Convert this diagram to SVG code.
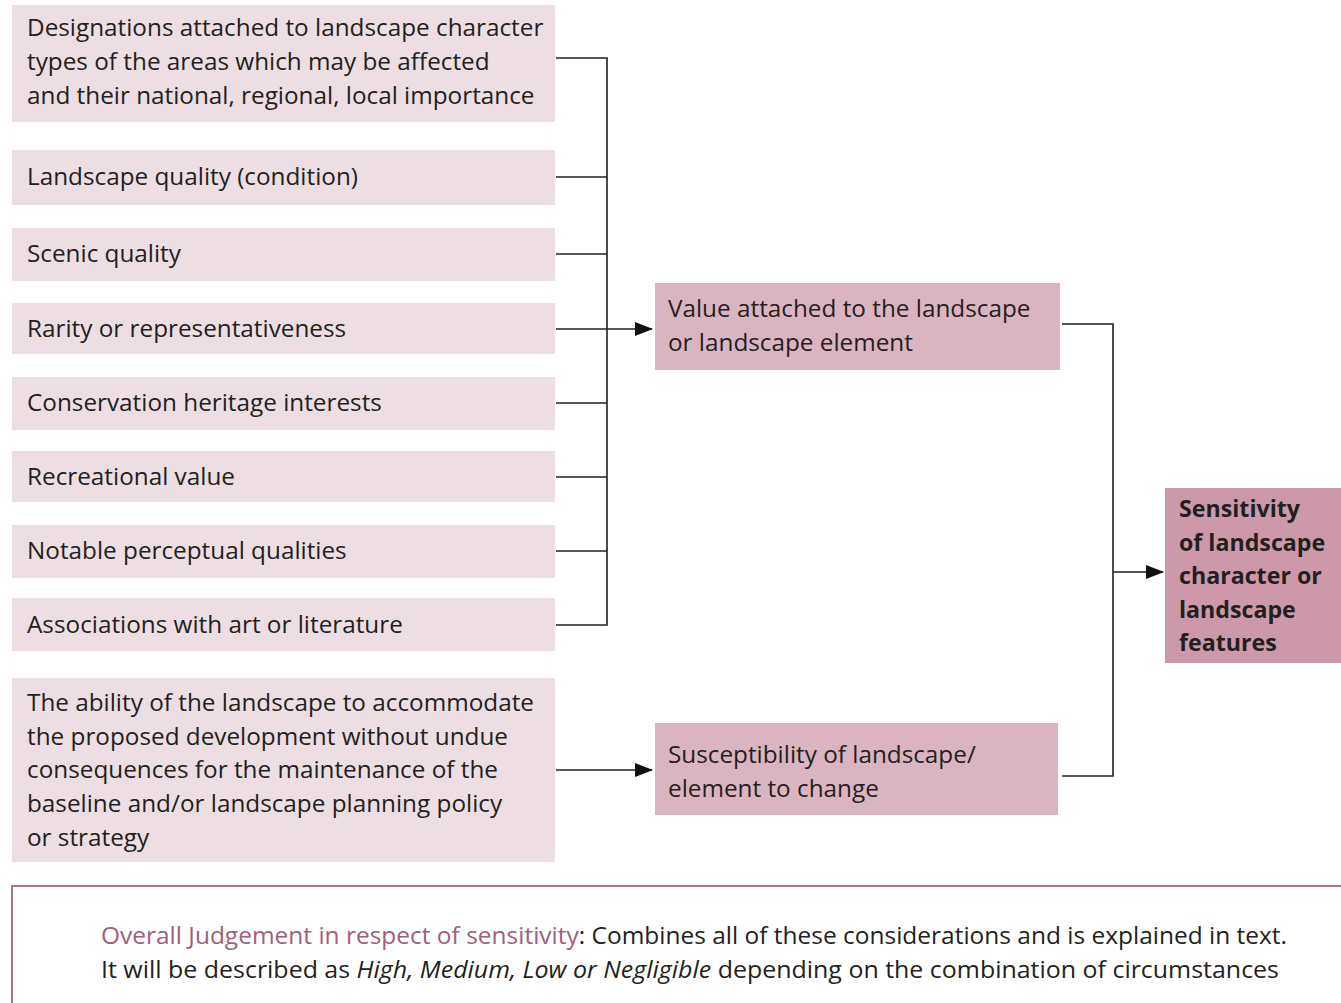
<svg xmlns="http://www.w3.org/2000/svg" width="1341" height="1003" viewBox="0 0 1341 1003">
<defs>
<style>
.lb{fill:#ecdee3}
.mb{fill:#dbb4c1}
.sb{fill:#cd98a9}
.t{font-family:"Open Sans","Liberation Sans",Arial,sans-serif;font-size:24.3px;fill:#231f20}
.tb{font-family:"Open Sans","Liberation Sans",Arial,sans-serif;font-size:23.2px;font-weight:bold;fill:#231f20}
.c{fill:none;stroke:#231f20;stroke-width:1.6}
</style>
<marker id="ah" markerWidth="18" markerHeight="14" refX="17" refY="7" orient="auto" markerUnits="userSpaceOnUse">
<path d="M0,0 L18,7 L0,14 Z" fill="#111"/>
</marker>
</defs>
<rect width="1341" height="1003" fill="#fff"/>

<g id="n1"><rect class="lb" x="12" y="5" width="543" height="117"/>
<text class="t" x="27" y="36">Designations attached to landscape character</text>
<text class="t" x="27" y="70">types of the areas which may be affected</text>
<text class="t" x="27" y="104">and their national, regional, local importance</text></g>
<g id="n2"><rect class="lb" x="12" y="150" width="543" height="55"/><text class="t" x="27" y="185">Landscape quality (condition)</text></g>
<g id="n3"><rect class="lb" x="12" y="228" width="543" height="53"/><text class="t" x="27" y="262">Scenic quality</text></g>
<g id="n4"><rect class="lb" x="12" y="303" width="543" height="51"/><text class="t" x="27" y="337">Rarity or representativeness</text></g>
<g id="n5"><rect class="lb" x="12" y="377" width="543" height="53"/><text class="t" x="27" y="411">Conservation heritage interests</text></g>
<g id="n6"><rect class="lb" x="12" y="451" width="543" height="51"/><text class="t" x="27" y="485">Recreational value</text></g>
<g id="n7"><rect class="lb" x="12" y="525" width="543" height="53"/><text class="t" x="27" y="559">Notable perceptual qualities</text></g>
<g id="n8"><rect class="lb" x="12" y="598" width="543" height="53"/><text class="t" x="27" y="633">Associations with art or literature</text></g>
<g id="n9"><rect class="lb" x="12" y="678" width="543" height="184"/>
<text class="t" x="27" y="711">The ability of the landscape to accommodate</text>
<text class="t" x="27" y="745">the proposed development without undue</text>
<text class="t" x="27" y="778">consequences for the maintenance of the</text>
<text class="t" x="27" y="812">baseline and/or landscape planning policy</text>
<text class="t" x="27" y="846">or strategy</text></g>

<g id="value"><rect class="mb" x="655" y="283" width="405" height="87"/>
<text class="t" x="668" y="317">Value attached to the landscape</text>
<text class="t" x="668" y="351">or landscape element</text></g>
<g id="susc"><rect class="mb" x="655" y="723" width="403" height="92"/>
<text class="t" x="668" y="763">Susceptibility of landscape/</text>
<text class="t" x="668" y="797">element to change</text></g>
<g id="sens"><rect class="sb" x="1165" y="488" width="176" height="175"/>
<text class="tb" x="1179" y="517">Sensitivity</text>
<text class="tb" x="1179" y="551">of landscape</text>
<text class="tb" x="1179" y="584">character or</text>
<text class="tb" x="1179" y="618">landscape</text>
<text class="tb" x="1179" y="651">features</text></g>

<g id="connectors">
<path class="c" d="M556,58 H607 V625 H556 M556,177 H607 M556,254 H607 M556,403 H607 M556,477 H607 M556,551 H607"/>
<path class="c" d="M556,329 H652" marker-end="url(#ah)"/>
<path class="c" d="M556,770 H652" marker-end="url(#ah)"/>
<path class="c" d="M1062,324 H1113 V776 H1062"/>
<path class="c" d="M1113,572 H1163" marker-end="url(#ah)"/>
</g>

<g id="note">
<rect x="12" y="886" width="1335" height="125" fill="#fff" stroke="#b07085" stroke-width="2"/>
<text class="t" x="101" y="944" textLength="1186" lengthAdjust="spacingAndGlyphs"><tspan fill="#a0607a">Overall Judgement in respect of sensitivity</tspan>: Combines all of these considerations and is explained in text.</text>
<text class="t" x="101" y="978" textLength="1178" lengthAdjust="spacingAndGlyphs">It will be described as <tspan font-style="italic">High, Medium, Low or Negligible</tspan> depending on the combination of circumstances</text>
</g>
</svg>
